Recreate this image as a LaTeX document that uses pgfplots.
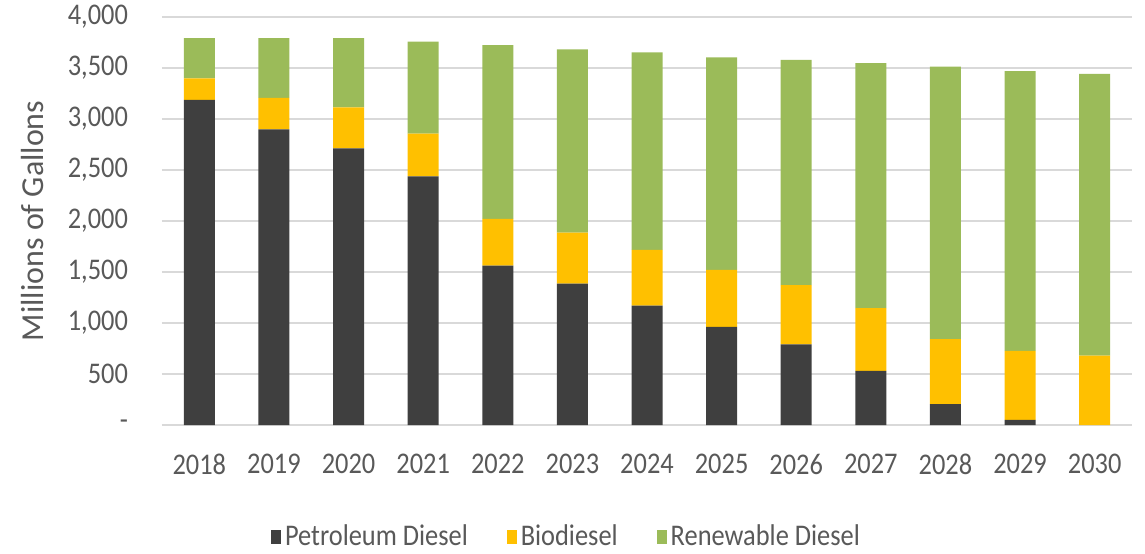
\documentclass[border=0pt]{standalone}
\usepackage{pgfplots}
\pgfplotsset{compat=1.18}
\usepackage{pgfplotstable}
\usepackage{fontspec}
\setmainfont{Carlito}[FakeStretch=0.88]
\newfontfamily\ylabfont{Carlito}
\definecolor{petro}{HTML}{3F3F3F}
\definecolor{bio}{HTML}{FFC000}
\definecolor{renew}{HTML}{9BBB59}
\definecolor{txt}{HTML}{595959}
\definecolor{gridc}{HTML}{D9D9D9}
\pgfplotstableread{
x petro bio renew
0 3185 210 395
1 2895 310 585
2 2710 400 680
3 2435 420 900
4 1560 460 1700
5 1385 500 1795
6 1170 545 1935
7 960 560 2080
8 790 580 2205
9 530 615 2400
10 205 635 2670
11 50 675 2740
12 0 680 2760
}\datatable
\begin{document}
\begin{tikzpicture}
\path[use as bounding box] (-81pt,-64pt) rectangle (491.5pt,212.5pt);
\begin{axis}[
  at={(0pt,0pt)}, anchor=south west,
  scale only axis, width=485pt, height=204.2pt,
  ybar stacked, bar width=15.5pt,
  xmin=-0.5, xmax=12.5, ymin=0, ymax=4000,
  xtick={0,...,12},
  xticklabels={2018,2019,2020,2021,2022,2023,2024,2025,2026,2027,2028,2029,2030},
  ytick={0,500,...,4000},
  yticklabels={-,500,{1,000},{1,500},{2,000},{2,500},{3,000},{3,500},{4,000}},
  /pgf/number format/assume math mode=true,
  axis line style={draw=none},
  major tick length=0pt,
  tick style={draw=none},
  ymajorgrids, grid style={gridc, line width=1pt},
  tick label style={font=\fontsize{15}{18}\selectfont, text=txt},
  yticklabel style={xshift=-13.5pt},
  xticklabel style={yshift=-11pt},
  every axis y label/.style={at={(axis description cs:-0.134,0.5)}, rotate=90, anchor=center},
  ylabel={\ylabfont\fontsize{16}{19}\selectfont\color{txt}Millions of Gallons},
  legend columns=3,
  legend style={draw=none, at={(0.418,-0.274)}, anchor=center,
    font=\fontsize{15}{18}\selectfont, text=txt,
    /tikz/every even column/.append style={column sep=17.5pt}},
  legend image code/.code={\fill[#1] (0pt,-3.5pt) rectangle (5pt,3.5pt);},
]
\addplot[fill=petro, draw=none] table[x=x, y=petro] {\datatable};
\addplot[fill=bio, draw=none] table[x=x, y=bio] {\datatable};
\addplot[fill=renew, draw=none] table[x=x, y=renew] {\datatable};
\legend{Petroleum Diesel, Biodiesel, Renewable Diesel}
\end{axis}
\end{tikzpicture}
\end{document}
